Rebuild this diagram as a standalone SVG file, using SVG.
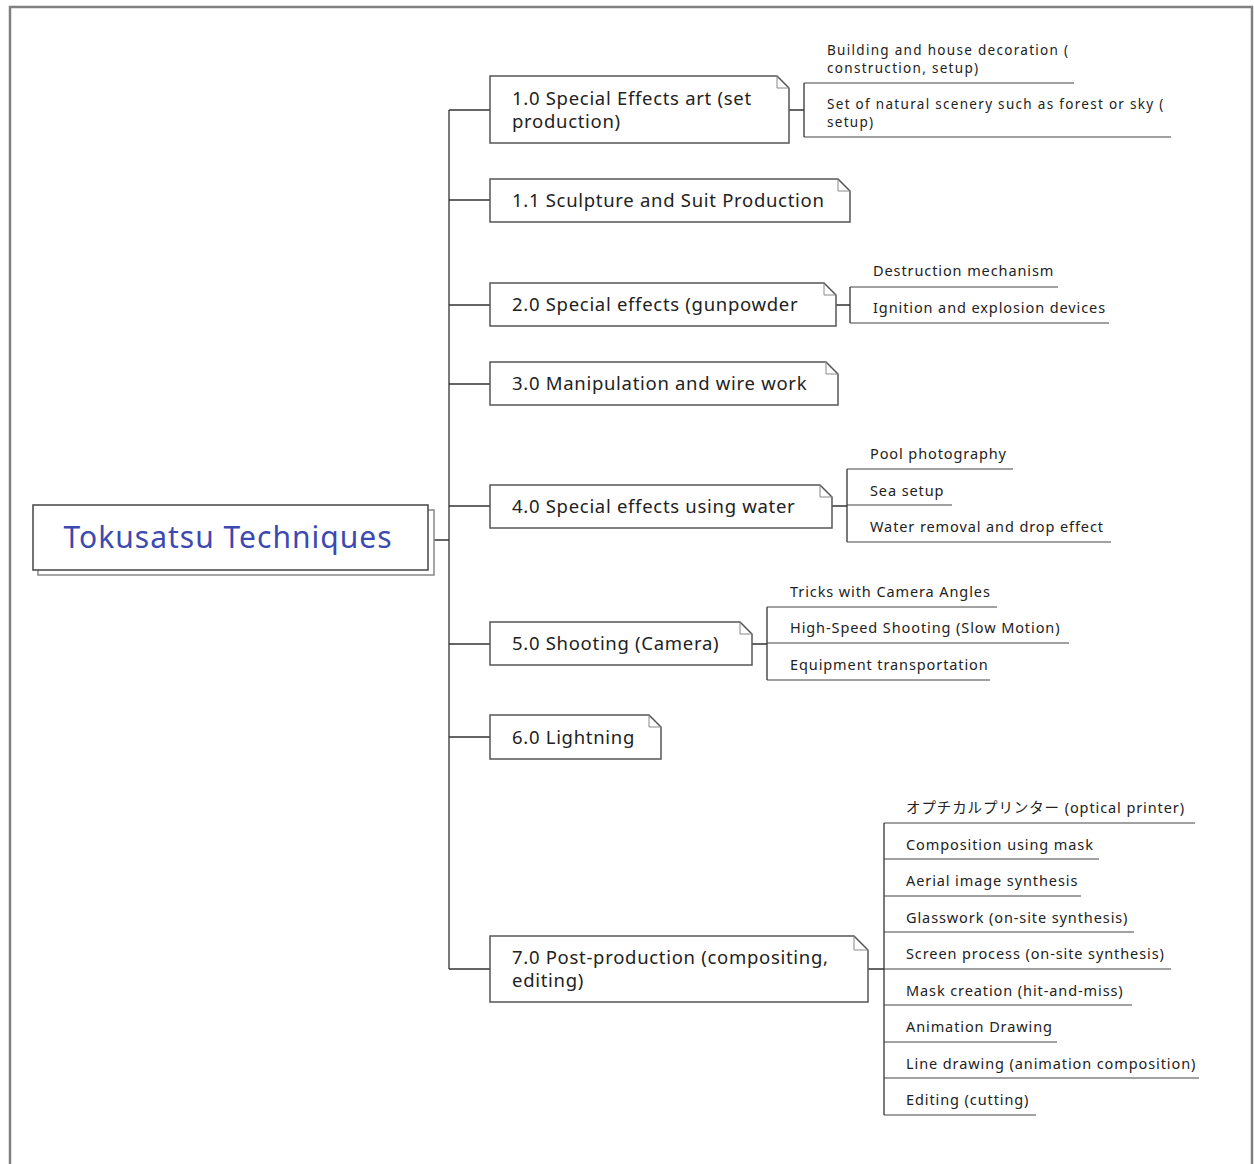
<svg xmlns="http://www.w3.org/2000/svg" width="1254" height="1164" viewBox="0 0 1254 1164">
<style>
.frame{fill:none;stroke:#808080;stroke-width:2.5}
.node{fill:#fff;stroke:#555;stroke-width:1.5}
.fold{fill:none;stroke:#888;stroke-width:1}
.ln{fill:none;stroke:#333;stroke-width:1.3}
.ul{fill:none;stroke:#444;stroke-width:1.2}
.nt{font-family:"Noto Sans","Liberation Sans",sans-serif;font-size:18.5px;letter-spacing:0.7px;fill:#222}
.ct{font-family:"Noto Sans","Noto Sans CJK JP","Liberation Sans",sans-serif;font-size:14.5px;letter-spacing:0.9px;fill:#222}
.ct2{font-family:"Noto Sans","Liberation Sans",sans-serif;font-size:13.5px;letter-spacing:1.3px;fill:#222}
.root{font-family:"Noto Sans","Liberation Sans",sans-serif;font-size:30px;letter-spacing:1px;fill:#3c4ab0}
</style>
<rect width="1254" height="1164" fill="#fff"/>
<path class="frame" d="M10,1164 V7 H1252 V1164"/>

<g id="connectors">
<path class="ln" d="M428,540 H449 M449,110 V969"/>
<path class="ln" d="M449,110 H490 M449,200 H490 M449,305 H490 M449,384 H490 M449,506 H490 M449,644 H490 M449,737 H490 M449,969 H490"/>
<path class="ln" d="M789,110 H804 M804,83 V137"/>
<path class="ln" d="M836,305 H850 M850,287 V323"/>
<path class="ln" d="M832,506 H847 M847,469 V542"/>
<path class="ln" d="M752,644 H767 M767,607 V680"/>
<path class="ln" d="M868,969 H884 M884,823 V1115"/>
</g>

<g id="root">
<rect x="38" y="510" width="396" height="65" fill="#fff" stroke="#888" stroke-width="1.5"/>
<rect x="33" y="505" width="395" height="65" fill="#fff" stroke="#444" stroke-width="1.5"/>
<text class="root" x="228" y="548" text-anchor="middle">Tokusatsu Techniques</text>
</g>

<g id="n10">
<path class="node" d="M490,76 H777 L789,88 V143 H490 Z"/><path class="fold" d="M777,76 V88 H789"/>
<text class="nt" x="512" y="105">1.0 Special Effects art (set<tspan x="512" dy="23">production)</tspan></text>
</g>
<g id="n11">
<path class="node" d="M490,179 H838 L850,191 V222 H490 Z"/><path class="fold" d="M838,179 V191 H850"/>
<text class="nt" x="512" y="207">1.1 Sculpture and Suit Production</text>
</g>
<g id="n20">
<path class="node" d="M490,283 H824 L836,295 V326 H490 Z"/><path class="fold" d="M824,283 V295 H836"/>
<text class="nt" x="512" y="311">2.0 Special effects (gunpowder</text>
</g>
<g id="n30">
<path class="node" d="M490,362 H826 L838,374 V405 H490 Z"/><path class="fold" d="M826,362 V374 H838"/>
<text class="nt" x="512" y="390">3.0 Manipulation and wire work</text>
</g>
<g id="n40">
<path class="node" d="M490,485 H820 L832,497 V528 H490 Z"/><path class="fold" d="M820,485 V497 H832"/>
<text class="nt" x="512" y="513">4.0 Special effects using water</text>
</g>
<g id="n50">
<path class="node" d="M490,622 H740 L752,634 V665 H490 Z"/><path class="fold" d="M740,622 V634 H752"/>
<text class="nt" x="512" y="650">5.0 Shooting (Camera)</text>
</g>
<g id="n60">
<path class="node" d="M490,715 H649 L661,727 V759 H490 Z"/><path class="fold" d="M649,715 V727 H661"/>
<text class="nt" x="512" y="744">6.0 Lightning</text>
</g>
<g id="n70">
<path class="node" d="M490,936 H854 L868,950 V1002 H490 Z"/><path class="fold" d="M854,936 V950 H868"/>
<text class="nt" x="512" y="964">7.0 Post-production (compositing,<tspan x="512" dy="23">editing)</tspan></text>
</g>

<g id="c10a"><text class="ct2" x="827" y="55">Building and house decoration (<tspan x="827" dy="18">construction, setup)</tspan></text><path class="ul" d="M804,83 H1074"/></g>
<g id="c10b"><text class="ct2" x="827" y="109">Set of natural scenery such as forest or sky (<tspan x="827" dy="18">setup)</tspan></text><path class="ul" d="M804,137 H1171"/></g>

<g id="c20a"><text class="ct" x="873" y="276">Destruction mechanism</text><path class="ul" d="M850,287 H1058"/></g>
<g id="c20b"><text class="ct" x="873" y="313">Ignition and explosion devices</text><path class="ul" d="M850,323 H1109"/></g>

<g id="c40a"><text class="ct" x="870" y="459">Pool photography</text><path class="ul" d="M847,469 H1013"/></g>
<g id="c40b"><text class="ct" x="870" y="496">Sea setup</text><path class="ul" d="M847,505 H952"/></g>
<g id="c40c"><text class="ct" x="870" y="532">Water removal and drop effect</text><path class="ul" d="M847,542 H1111"/></g>

<g id="c50a"><text class="ct" x="790" y="597">Tricks with Camera Angles</text><path class="ul" d="M767,607 H997"/></g>
<g id="c50b"><text class="ct" x="790" y="633">High-Speed Shooting (Slow Motion)</text><path class="ul" d="M767,643 H1069"/></g>
<g id="c50c"><text class="ct" x="790" y="670">Equipment transportation</text><path class="ul" d="M767,680 H990"/></g>

<g id="c70a"><text class="ct" x="906" y="813">オプチカルプリンター (optical printer)</text><path class="ul" d="M884,823 H1195"/></g>
<g id="c70b"><text class="ct" x="906" y="850">Composition using mask</text><path class="ul" d="M884,859 H1099"/></g>
<g id="c70c"><text class="ct" x="906" y="886">Aerial image synthesis</text><path class="ul" d="M884,896 H1081"/></g>
<g id="c70d"><text class="ct" x="906" y="923">Glasswork (on-site synthesis)</text><path class="ul" d="M884,932 H1134"/></g>
<g id="c70e"><text class="ct" x="906" y="959">Screen process (on-site synthesis)</text><path class="ul" d="M884,969 H1171"/></g>
<g id="c70f"><text class="ct" x="906" y="996">Mask creation (hit-and-miss)</text><path class="ul" d="M884,1005 H1132"/></g>
<g id="c70g"><text class="ct" x="906" y="1032">Animation Drawing</text><path class="ul" d="M884,1042 H1057"/></g>
<g id="c70h"><text class="ct" x="906" y="1069">Line drawing (animation composition)</text><path class="ul" d="M884,1078 H1199"/></g>
<g id="c70i"><text class="ct" x="906" y="1105">Editing (cutting)</text><path class="ul" d="M884,1115 H1036"/></g>
</svg>
